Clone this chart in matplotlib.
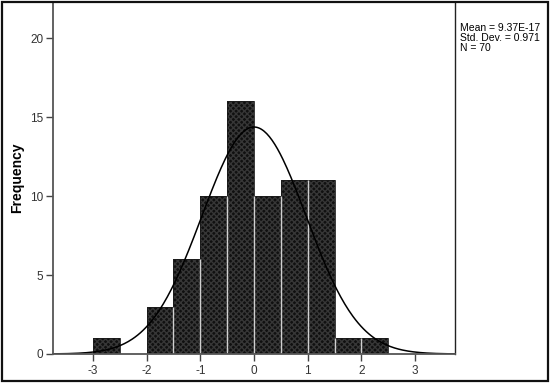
import matplotlib.pyplot as plt
import numpy as np

plt.rcParams['font.family'] = ['Liberation Sans', 'DejaVu Sans']
plt.rcParams['axes.unicode_minus'] = False

# histogram bins (width 0.5) and counts
bin_left = [-3.0, -2.5, -2.0, -1.5, -1.0, -0.5, 0.0, 0.5, 1.0, 1.5, 2.0]
counts = [1, 0, 3, 6, 10, 16, 10, 11, 11, 1, 1]
bin_width = 0.5

mean = 9.37e-17
std = 0.971
n = 70
stats_lines = ['Mean = 9.37E-17', 'Std. Dev. = 0.971', 'N = 70']
xticks = [-3, -2, -1, 0, 1, 2, 3]
yticks = [0, 5, 10, 15, 20]

fig = plt.figure(figsize=(5.5, 3.83), dpi=100)
ax = fig.add_axes([53/550, 29/383, 402/550, 352/383])

# bars: dark dithered fill, light separators between them
ax.bar(bin_left, counts, width=bin_width, align='edge', color='#101010',
       hatch='xxxxxx', edgecolor='#363636', linewidth=0)
ax.bar(bin_left, counts, width=bin_width, align='edge', fill=False,
       edgecolor='#1a1a1a', linewidth=0.6)
edges = np.array(bin_left[1:])
shared = np.minimum(counts[:-1], counts[1:])
ax.vlines(edges, 0, shared, colors='#d0d0d0', linewidth=1.0)

# normal curve
xs = np.linspace(-3.74, 3.74, 300)
ys = n * bin_width * np.exp(-0.5 * ((xs - mean) / std) ** 2) / (std * np.sqrt(2 * np.pi))
ax.plot(xs, ys, color='black', lw=1.1)

ax.set_xlim(-3.74, 3.74)
ax.set_ylim(0, 22.3)
ax.set_xticks(xticks)
ax.set_yticks(yticks)
ax.tick_params(direction='out', length=5, width=1, colors='#444444',
               labelsize=8.5, labelcolor='#333333')
ax.tick_params(axis='x', pad=3)
ax.tick_params(axis='y', pad=2)
for s in ['left', 'bottom']:
    ax.spines[s].set_color('#555555')
    ax.spines[s].set_linewidth(1.3)
ax.spines['right'].set_color('#222222')
ax.spines['right'].set_linewidth(1.0)
ax.spines['top'].set_visible(False)

ax.set_ylabel('Frequency', fontsize=10, fontweight='bold', labelpad=4)

fig.text(460/550, 1 - 38/383, '\n'.join(stats_lines), fontsize=7.5,
         va='center', ha='left', linespacing=1.0)

# outer frame
fig.patches.append(plt.Rectangle((0.003, 0.004), 0.993, 0.991, transform=fig.transFigure,
                                 fill=False, edgecolor='#111111', linewidth=1.6))

fig.savefig('out.png', dpi=100)
